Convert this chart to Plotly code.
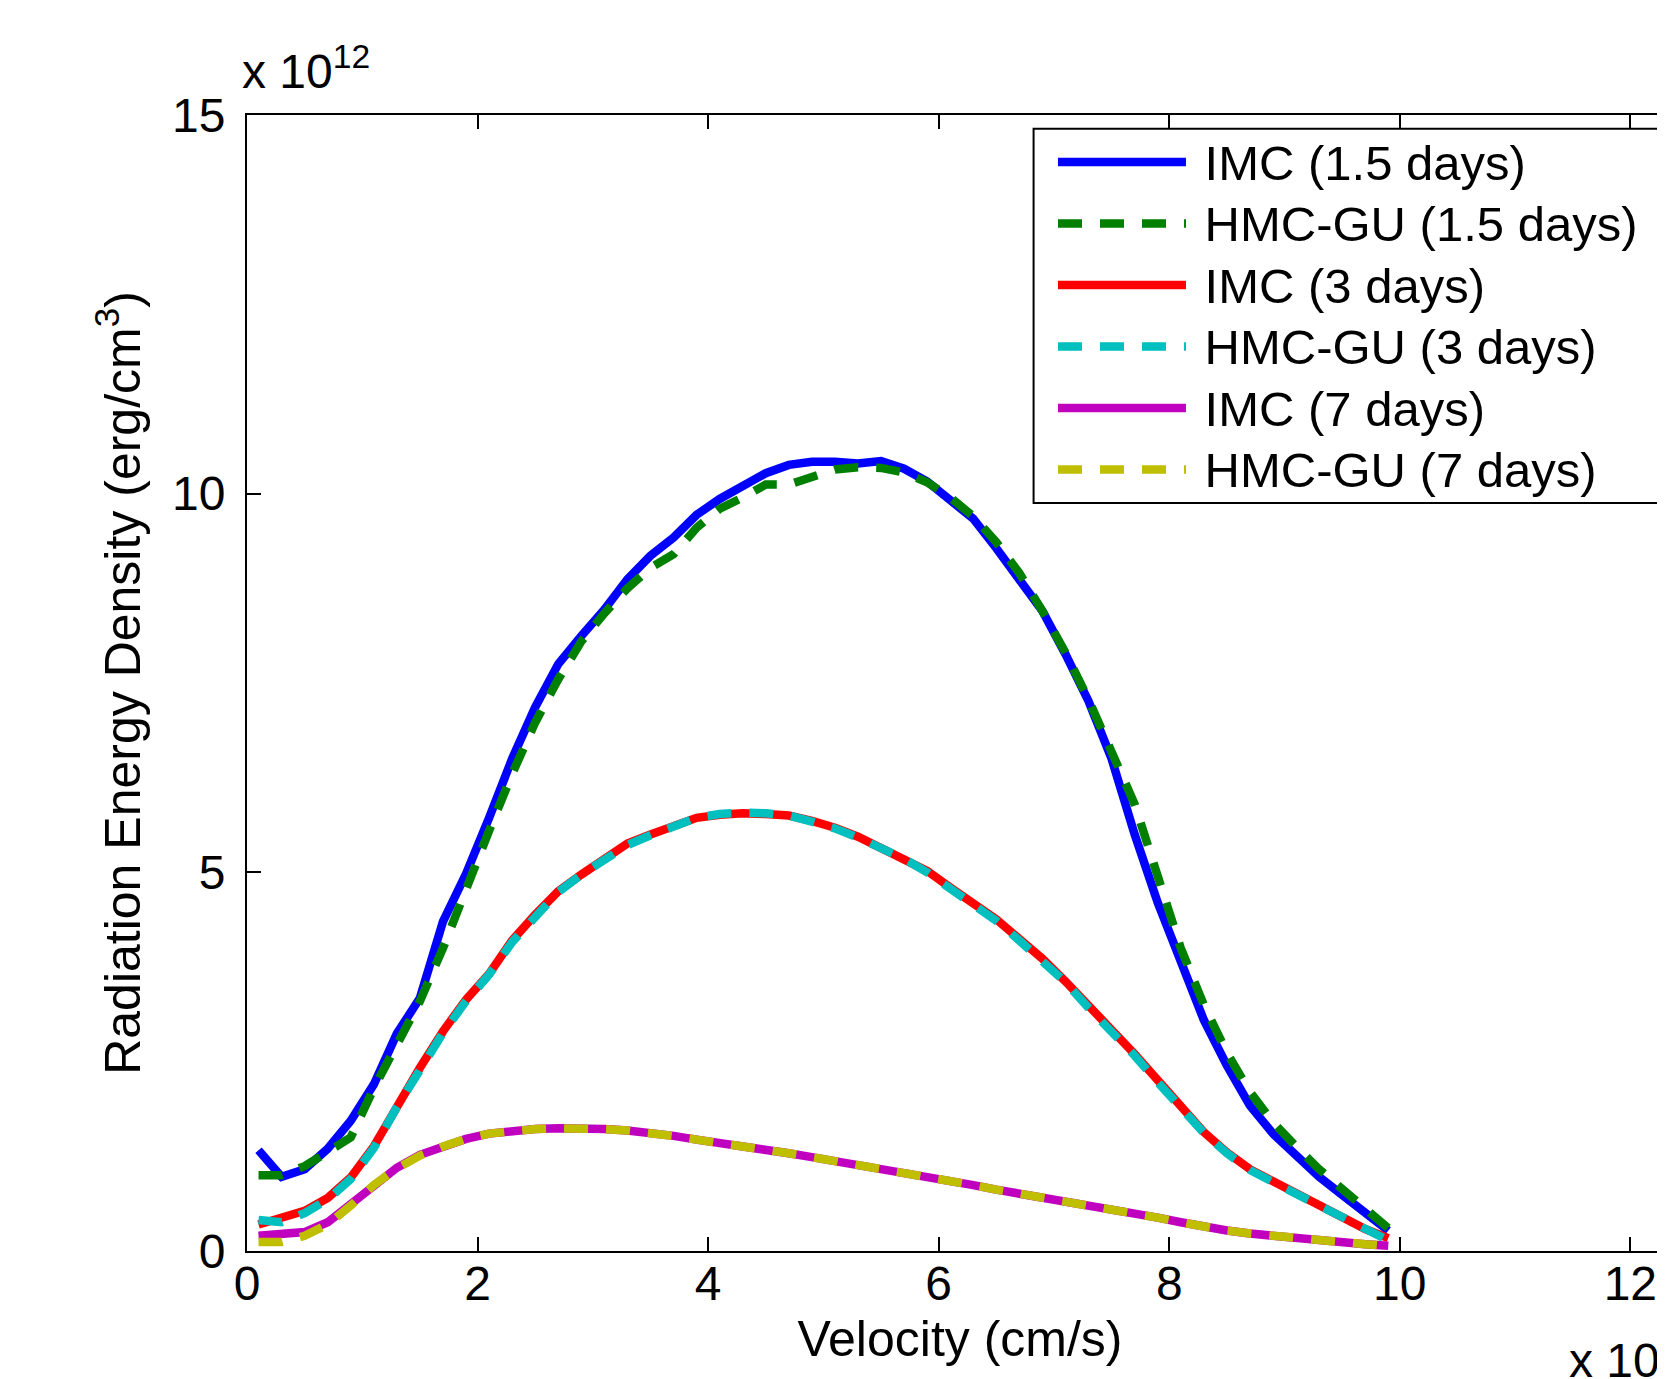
import plotly.graph_objects as go

# velocity (x 1e8 cm/s)
velocity = [0.1, 0.3, 0.5, 0.7, 0.9, 1.1, 1.3, 1.5, 1.7, 1.9,
            2.1, 2.3, 2.5, 2.7, 2.9, 3.1, 3.3, 3.5, 3.7, 3.9,
            4.1, 4.3, 4.5, 4.7, 4.9, 5.1, 5.3, 5.5, 5.7, 5.9,
            6.1, 6.3, 6.5, 6.7, 6.9, 7.1, 7.3, 7.5, 7.7, 7.9,
            8.1, 8.3, 8.5, 8.7, 8.9, 9.1, 9.3, 9.5, 9.7, 9.9]

# radiation energy density (x 1e12 erg/cm^3)
imc_1p5 = [1.33, 0.98, 1.08, 1.35, 1.72, 2.20, 2.87, 3.34, 4.35, 4.98,
           5.72, 6.50, 7.18, 7.75, 8.12, 8.47, 8.87, 9.18, 9.42, 9.72,
           9.93, 10.10, 10.27, 10.38, 10.42, 10.42, 10.40, 10.43, 10.33, 10.16,
           9.93, 9.67, 9.28, 8.87, 8.45, 7.88, 7.26, 6.50, 5.50, 4.60,
           3.80, 3.05, 2.45, 1.92, 1.55, 1.25, 0.98, 0.74, 0.49, 0.27]
hmc_1p5 = [1.00, 1.00, 1.12, 1.30, 1.50, 2.15, 2.72, 3.30, 4.00, 4.80,
           5.55, 6.30, 6.98, 7.55, 8.05, 8.42, 8.75, 9.02, 9.20, 9.55,
           9.80, 9.95, 10.12, 10.12, 10.22, 10.32, 10.35, 10.34, 10.28, 10.15,
           9.95, 9.70, 9.36, 8.95, 8.45, 7.90, 7.28, 6.62, 5.90, 4.95,
           4.00, 3.25, 2.62, 2.10, 1.70, 1.38, 1.08, 0.82, 0.56, 0.30]
imc_3 = [0.35, 0.44, 0.53, 0.70, 0.97, 1.38, 1.92, 2.42, 2.90, 3.32,
         3.66, 4.10, 4.44, 4.75, 4.97, 5.18, 5.38, 5.50, 5.62, 5.72,
         5.76, 5.78, 5.77, 5.75, 5.68, 5.59, 5.47, 5.33, 5.19, 5.02,
         4.80, 4.60, 4.38, 4.12, 3.86, 3.56, 3.22, 2.92, 2.60, 2.25,
         1.90, 1.57, 1.30, 1.08, 0.92, 0.76, 0.60, 0.44, 0.29, 0.17]
hmc_3 = [0.41, 0.38, 0.50, 0.68, 0.95, 1.36, 1.90, 2.40, 2.88, 3.30,
         3.65, 4.08, 4.42, 4.74, 4.97, 5.17, 5.36, 5.49, 5.62, 5.72,
         5.77, 5.79, 5.78, 5.75, 5.67, 5.58, 5.46, 5.32, 5.18, 5.00,
         4.79, 4.58, 4.36, 4.10, 3.84, 3.55, 3.21, 2.91, 2.58, 2.23,
         1.88, 1.56, 1.29, 1.07, 0.91, 0.75, 0.59, 0.43, 0.28, 0.14]
imc_7 = [0.20, 0.22, 0.25, 0.38, 0.62, 0.88, 1.10, 1.27, 1.38, 1.48,
         1.55, 1.59, 1.61, 1.62, 1.62, 1.61, 1.59, 1.56, 1.52, 1.47,
         1.43, 1.39, 1.34, 1.29, 1.24, 1.19, 1.14, 1.09, 1.03, 0.98,
         0.92, 0.87, 0.81, 0.76, 0.71, 0.65, 0.60, 0.55, 0.50, 0.44,
         0.38, 0.32, 0.27, 0.23, 0.20, 0.16, 0.13, 0.11, 0.09, 0.07]
hmc_7 = [0.12, 0.12, 0.20, 0.35, 0.60, 0.87, 1.09, 1.26, 1.38, 1.48,
         1.55, 1.59, 1.61, 1.62, 1.62, 1.61, 1.59, 1.56, 1.52, 1.47,
         1.43, 1.39, 1.34, 1.29, 1.24, 1.19, 1.14, 1.09, 1.03, 0.98,
         0.92, 0.87, 0.81, 0.76, 0.71, 0.65, 0.60, 0.55, 0.50, 0.44,
         0.38, 0.32, 0.27, 0.23, 0.20, 0.16, 0.13, 0.11, 0.09, 0.07]

names = ['IMC (1.5 days)', 'HMC-GU (1.5 days)', 'IMC (3 days)',
         'HMC-GU (3 days)', 'IMC (7 days)', 'HMC-GU (7 days)']
series = [imc_1p5, hmc_1p5, imc_3, hmc_3, imc_7, hmc_7]
colors = ['#0000ff', '#007f00', '#ff0000', '#00bfbf', '#bf00bf', '#bfbf00']
dashes = ['solid', '24px,18px', 'solid', '24px,18px', 'solid', '24px,18px']

x_ticks = [0, 2, 4, 6, 8, 10, 12]
y_ticks = [0, 5, 10, 15]

FONT = 'Liberation Sans, Arial, sans-serif'

fig = go.Figure()
for nm, ys, c, d in zip(names, series, colors, dashes):
    # a bit of space between legend line and label, label drawn slightly larger
    label = '<span style="font-size:49px">\u00a0' + nm + '</span>'
    fig.add_trace(go.Scatter(x=velocity, y=ys, mode='lines', name=label,
                             line=dict(color=c, width=8.5, dash=d)))

axis_style = dict(showline=True, linecolor='black', linewidth=2,
                  ticks='inside', ticklen=14, tickwidth=2, tickcolor='black',
                  showgrid=False, zeroline=False,
                  tickfont=dict(size=48, color='black', family=FONT))

fig.update_xaxes(range=[0, 12.37], tickvals=x_ticks, mirror='ticks',
                 ticklabelstandoff=-11,
                 title=dict(text='Velocity (cm/s)', standoff=12,
                            font=dict(size=50, color='black', family=FONT)),
                 **axis_style)
fig.update_yaxes(range=[0, 15], tickvals=y_ticks, mirror=False,
                 ticklabelstandoff=10,
                 title=dict(text='Radiation Energy Density (erg/cm<sup>3</sup>)', standoff=16,
                            font=dict(size=50, color='black', family=FONT)),
                 **axis_style)

fig.add_annotation(text='x 10<sup>12</sup>', xref='paper', yref='paper',
                   x=0, y=1.0, xanchor='left', yanchor='bottom', xshift=-7, yshift=15,
                   showarrow=False, font=dict(size=48, color='black', family=FONT))
fig.add_annotation(text='x 10<sup>8</sup>', xref='paper', yref='paper',
                   x=0.933, y=-0.075, xanchor='left', yanchor='top', xshift=-10, yshift=11,
                   showarrow=False, font=dict(size=48, color='black', family=FONT))

# legend frame
fig.add_shape(type='rect', xref='paper', yref='paper',
              x0=0.5516, x1=0.9958, y0=0.6585, y1=0.9880,
              line=dict(color='black', width=2), fillcolor='rgba(0,0,0,0)')

fig.update_layout(
    width=1665, height=1379,
    margin=dict(l=239, r=0, t=107, b=136),
    paper_bgcolor='white', plot_bgcolor='white',
    font=dict(family=FONT, color='black'),
    showlegend=True,
    legend=dict(x=0.5652, y=0.990, xanchor='left', yanchor='top',
                borderwidth=0, bgcolor='rgba(0,0,0,0)',
                font=dict(size=45, color='black', family=FONT),
                itemwidth=128, tracegroupgap=0),
)

fig.write_html('out.html')
